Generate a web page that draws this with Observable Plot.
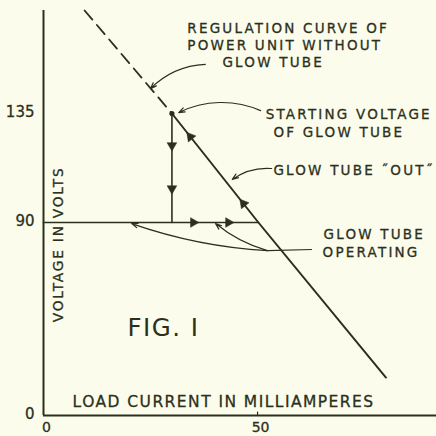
<!DOCTYPE html>
<html>
<head>
<meta charset="utf-8">
<script src="https://cdn.jsdelivr.net/npm/d3@7"></script>
<script src="https://cdn.jsdelivr.net/npm/@observablehq/plot@0.6"></script>
<style>
  html, body { margin: 0; padding: 0; background: #fcfcec; }
  #chart svg { display: block; }
</style>
</head>
<body>
<div id="chart"></div>
<script>
// Glow-tube voltage regulation: load current (mA) against output voltage (V)
const xTicks = [0, 50];
const yTicks = [0, 90, 135];

// Supply curve without the glow tube (dashed part above the striking point)
const curveNoTube = [[9.6, 178], [30, 135]];
// Same curve while the glow tube is out
const curveTubeOut = [[30, 135], [50.2, 90], [80, 17.7]];
// Regulated output while the tube is operating
const curveOperating = [[0, 90], [50.2, 90]];
// Drop from starting voltage to operating voltage
const curveStrike = [[30, 135], [30, 90]];
const strikePoint = [[30, 135]];

// Direction arrows along the curves
const arrowsDown = [[30, 121.8], [30, 104]];
const arrowsRight = [[35.0, 90], [43.2, 90]];
const arrowsUpLeft = [[34.3, 125.4], [46.7, 97.8]];

// Labels and their anchor points
const noteText = ["REGULATION CURVE OF", "POWER UNIT WITHOUT", "GLOW TUBE",
  "STARTING VOLTAGE", "OF GLOW TUBE", "GLOW TUBE \u02DDOUT\u02DD", "GLOW TUBE", "OPERATING"];
const noteX = [33.6, 33.6, 41.8, 51.9, 53.7, 53.7, 65.4, 65.2];
const noteY = [170.5, 163.4, 156.3, 134.6, 127.2, 111.5, 84.4, 76.0];

// Leader lines from labels to curves: [x1, y1, x2, y2]
const leaderNoTube = [[37.8, 155.5, 25.0, 145.4]];
const leaderStart = [[50.7, 136.2, 31.6, 135.4]];
const leaderOut = [[53.3, 112.3, 44.1, 107.8]];
const leaderOperA = [[52.3, 76.9, 20.6, 89.5]];
const leaderOperB = [[52.3, 76.9, 40.2, 89.5]];
const leaderOperStub = [[52.3, 76.9], [62.6, 77.4]];

const ink = "#2b301c";
const bg = "#fcfcec";
const font = "DejaVu Sans";

const xy = {x: d => d[0], y: d => d[1]};
const seg = {x1: d => d[0], y1: d => d[1], x2: d => d[2], y2: d => d[3]};
const leader = (data, bend) => Plot.arrow(data, {...seg, bend, stroke: ink, strokeWidth: 1.2, headLength: 8, headAngle: 40});
const head = (data, rotate) => Plot.dot(data, {...xy, symbol: "triangle", r: 3.6, fill: ink, stroke: ink, strokeWidth: 0.5, rotate});
const lettering = {fill: ink, stroke: ink, strokeWidth: 0.3};

const chart = Plot.plot({
  width: 436,
  height: 436,
  marginLeft: 43,
  marginRight: 0,
  marginTop: 0,
  marginBottom: 21,
  style: {background: bg, color: ink, fontFamily: font},
  x: {type: "linear", domain: [0, 91.8], axis: null},
  y: {type: "linear", domain: [0, 90, 135, 178], range: [415, 222, 113, 10], axis: null},
  marks: [
    // axes
    Plot.ruleX([0], {y1: 0, y2: 178, stroke: ink, strokeWidth: 2}),
    Plot.ruleY([0], {x1: 0, x2: 91.8, stroke: ink, strokeWidth: 2}),
    Plot.ruleX([50], {y1: 0, y2: 1.6, stroke: ink, strokeWidth: 1.2}),
    Plot.text(yTicks, {x: 0, y: d => d, dx: -9, dy: -1, text: d => String(d), textAnchor: "end", fontSize: 15, ...lettering}),
    Plot.text(xTicks, {x: d => d, y: 0, dx: 3, dy: 12, text: d => String(d), fontSize: 14, ...lettering}),

    // curves
    Plot.line(curveNoTube, {...xy, stroke: ink, strokeWidth: 1.8, strokeDasharray: "12,7"}),
    Plot.line(curveTubeOut, {...xy, stroke: ink, strokeWidth: 2}),
    Plot.line(curveOperating, {...xy, stroke: ink, strokeWidth: 1.6}),
    Plot.line(curveStrike, {...xy, stroke: ink, strokeWidth: 1.6}),
    Plot.dot(strikePoint, {...xy, r: 2.6, fill: ink}),
    head(arrowsDown, 180),
    head(arrowsRight, 90),
    head(arrowsUpLeft, -39),

    // leaders
    leader(leaderNoTube, -21),
    leader(leaderStart, -25),
    leader(leaderOut, -20),
    leader(leaderOperA, 8),
    leader(leaderOperB, 12),
    Plot.line(leaderOperStub, {...xy, stroke: ink, strokeWidth: 1.2}),

    // labels
    Plot.text(noteText, {x: (d, i) => noteX[i], y: (d, i) => noteY[i], text: d => d, textAnchor: "start", fontSize: 13.5, ...lettering, ariaDescription: "notes"}),
    Plot.text(["LOAD CURRENT IN MILLIAMPERES"], {x: 6.8, y: 6.1, text: d => d, textAnchor: "start", fontSize: 15.5, ...lettering, ariaDescription: "xtitle"}),
    Plot.text(["VOLTAGE IN VOLTS"], {x: 3.5, y: 79.8, text: d => d, rotate: -90, fontSize: 13.7, ...lettering, ariaDescription: "ytitle"}),
    Plot.text(["FIG. I"], {x: 19.6, y: 40.6, text: d => d, textAnchor: "start", fontSize: 24.5, fill: ink, ariaDescription: "fig"})
  ]
});

// lettering is widely spaced
const spacing = {notes: "2.2px", xtitle: "1.45px", ytitle: "1.8px", fig: "1.5px"};
for (const [label, ls] of Object.entries(spacing)) {
  chart.querySelectorAll(`g[aria-description="${label}"] text`)
    .forEach(t => t.setAttribute("letter-spacing", ls));
}
document.getElementById("chart").append(chart);
</script>
</body>
</html>
